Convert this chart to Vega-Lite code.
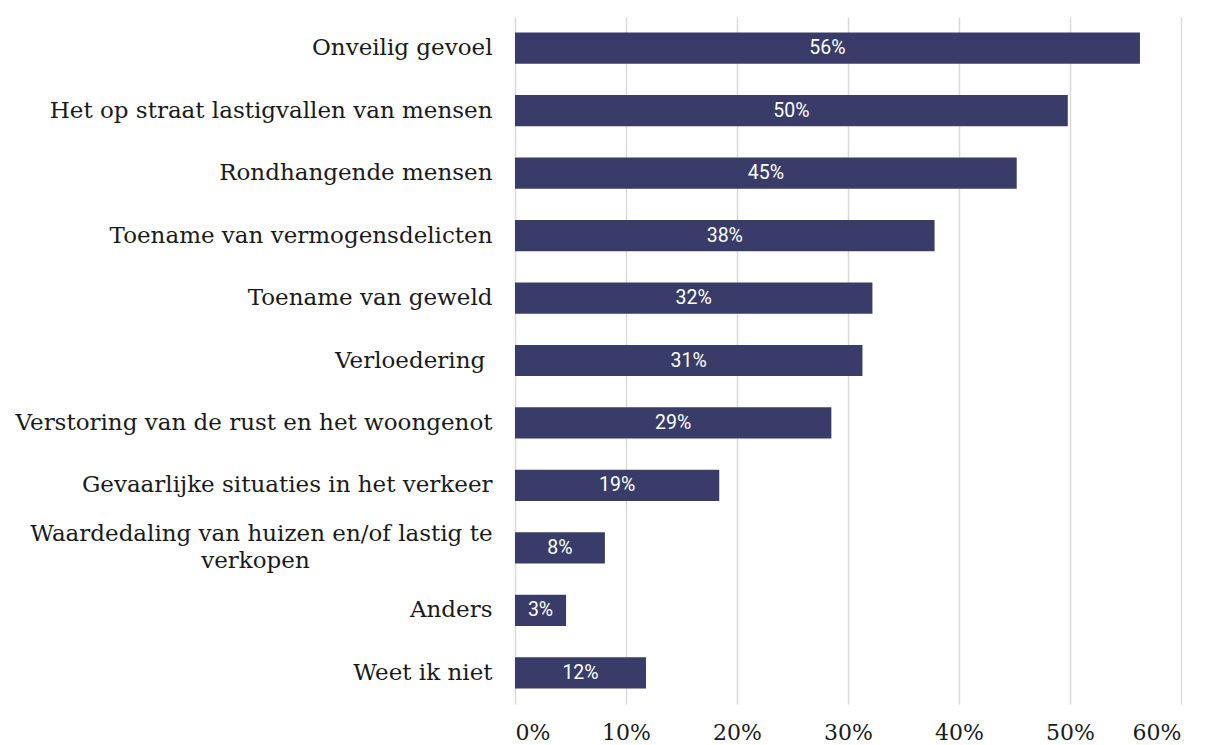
{
  "$schema": "https://vega.github.io/schema/vega-lite/v6.json",
  "width": 666,
  "height": 687,
  "autosize": "none",
  "padding": {"left": 515, "top": 17, "right": 30, "bottom": 41},
  "background": "white",
  "config": {"view": {"stroke": null}},
  "data": {
    "values": [
      {"reden": "Onveilig gevoel", "pct": 56.3, "label": "56%"},
      {"reden": "Het op straat lastigvallen van mensen", "pct": 49.8, "label": "50%"},
      {"reden": "Rondhangende mensen", "pct": 45.2, "label": "45%"},
      {"reden": "Toename van vermogensdelicten", "pct": 37.8, "label": "38%"},
      {"reden": "Toename van geweld", "pct": 32.2, "label": "32%"},
      {"reden": "Verloedering", "pct": 31.3, "label": "31%"},
      {"reden": "Verstoring van de rust en het woongenot", "pct": 28.5, "label": "29%"},
      {"reden": "Gevaarlijke situaties in het verkeer", "pct": 18.4, "label": "19%"},
      {"reden": "Waardedaling van huizen en/of lastig te verkopen", "pct": 8.1, "label": "8%"},
      {"reden": "Anders", "pct": 4.6, "label": "3%"},
      {"reden": "Weet ik niet", "pct": 11.8, "label": "12%"}
    ]
  },
  "encoding": {
    "y": {
      "field": "reden",
      "type": "nominal",
      "sort": null,
      "scale": {"paddingInner": 0.5, "paddingOuter": 0.25},
      "axis": {
        "title": null,
        "domain": false,
        "ticks": false,
        "grid": false,
        "labelFont": "DejaVu Serif",
        "labelFontSize": 23,
        "labelColor": "#1a1a1a",
        "labelPadding": 23,
        "labelLimit": 600,
        "labelLineHeight": 27,
        "labelOffset": {"condition": {"test": "datum.value == 'Waardedaling van huizen en/of lastig te verkopen'", "value": -13.5}, "value": 0},
        "labelExpr": "datum.value == 'Waardedaling van huizen en/of lastig te verkopen' ? ['Waardedaling van huizen en/of lastig te', 'verkopen\u00a0\u00a0\u00a0\u00a0\u00a0\u00a0\u00a0\u00a0\u00a0\u00a0\u00a0\u00a0\u00a0\u00a0\u00a0\u00a0\u00a0\u00a0\u00a0\u00a0\u00a0\u00a0\u00a0\u00a0\u00a0\u200b'] : datum.value == 'Verloedering' ? 'Verloedering\u00a0\u200b' : datum.value"
      }
    }
  },
  "layer": [
    {
      "mark": {"type": "bar", "color": "#393c68"},
      "encoding": {
        "x": {
          "field": "pct",
          "type": "quantitative",
          "scale": {"domain": [0, 60], "nice": false},
          "axis": {
            "title": null,
            "values": [0, 10, 20, 30, 40, 50, 60],
            "labelExpr": "datum.value + '%'",
            "domain": false,
            "ticks": false,
            "grid": true,
            "gridColor": "#d9d9d9",
            "gridWidth": 1.5,
            "labelFont": "DejaVu Serif",
            "labelFontSize": 22,
            "labelColor": "#1a1a1a",
            "labelPadding": 18
          }
        }
      }
    },
    {
      "mark": {"type": "text", "color": "white", "font": "Roboto", "fontSize": 19.5, "align": "center", "baseline": "middle"},
      "encoding": {
        "x": {
          "field": "pct",
          "type": "quantitative",
          "scale": {"domain": [0, 120], "nice": false},
          "axis": null
        },
        "text": {"field": "label"}
      }
    }
  ],
  "resolve": {"scale": {"x": "independent"}}
}
